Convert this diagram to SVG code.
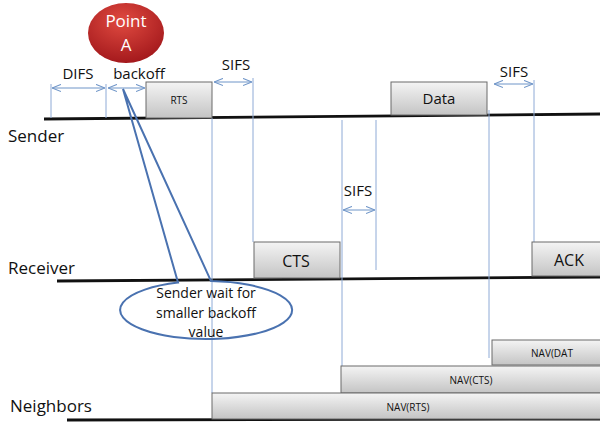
<svg xmlns="http://www.w3.org/2000/svg" width="600" height="422" viewBox="0 0 600 422">
<defs>
<linearGradient id="gbox" x1="0" y1="0" x2="0" y2="1">
<stop offset="0" stop-color="#f4f4f4"/>
<stop offset="1" stop-color="#c4c4c4"/>
</linearGradient>
<radialGradient id="gred" cx="0.45" cy="0.3" r="0.75">
<stop offset="0" stop-color="#e04a40"/>
<stop offset="1" stop-color="#a0161a"/>
</radialGradient>
<marker id="ah" viewBox="0 0 10 10" refX="10" refY="5" markerWidth="9" markerHeight="9" orient="auto-start-reverse" markerUnits="userSpaceOnUse">
<path d="M0,1 L10,5 L0,9" fill="none" stroke="#6f95c8" stroke-width="1.2"/>
</marker>
</defs>
<style>
.box{fill:url(#gbox);stroke:#6a6a6a;stroke-width:1}
.lbl{font-family:"Open Sans","Liberation Sans",sans-serif;fill:#111}
.tl{stroke:#111;stroke-width:2.8;fill:none}
.vl{stroke:#8eaad6;stroke-width:1;fill:none}
.arr{stroke:#6f95c8;stroke-width:1;fill:none;marker-start:url(#ah);marker-end:url(#ah)}
</style>
<rect width="600" height="422" fill="#fff"/>
<g id="timelines">
<path class="tl" d="M44,119 L600,114"/>
<path class="tl" d="M57,281 L600,277"/>
<path class="tl" d="M67,420 L600,419"/>
</g>
<g id="connectors">
<path class="vl" d="M51,84 V118 M106,84 V118 M253,78 V242 M212,118 V393 M342,120 V366 M376,120 V270 M489,110 V358 M534,80 V242"/>
<path class="arr" d="M52,88 H105"/>
<path class="arr" d="M108,88 H145"/>
<path class="arr" d="M214,82 H252"/>
<path class="arr" d="M494,84 H533"/>
<path class="arr" d="M343,210 H375"/>
</g>
<g id="axis-labels" class="lbl" font-size="17">
<text x="8" y="142">Sender</text>
<text x="8" y="274">Receiver</text>
<text x="10" y="412">Neighbors</text>
</g>
<g id="interval-labels" class="lbl" font-size="15" text-anchor="middle">
<text x="78" y="79">DIFS</text>
<text x="139" y="79">backoff</text>
<text x="236" y="70">SIFS</text>
<text x="514" y="77">SIFS</text>
<text x="358" y="196">SIFS</text>
</g>
<g id="rts"><rect class="box" x="146" y="82" width="66" height="36"/><text class="lbl" x="179" y="104" font-size="10" text-anchor="middle">RTS</text></g>
<g id="data"><rect class="box" x="391" y="82" width="96" height="33"/><text class="lbl" x="439" y="104" font-size="15" text-anchor="middle">Data</text></g>
<g id="cts"><rect class="box" x="254" y="242" width="86" height="36"/><text class="lbl" x="296" y="267" font-size="16" text-anchor="middle">CTS</text></g>
<g id="ack"><rect class="box" x="532" y="242" width="72" height="34"/><text class="lbl" x="569" y="266" font-size="16" text-anchor="middle">ACK</text></g>
<g id="nav-data"><rect class="box" x="492" y="340" width="112" height="25"/><text class="lbl" x="552" y="357" font-size="10" text-anchor="middle">NAV(DAT</text></g>
<g id="nav-cts"><rect class="box" x="341" y="366" width="263" height="27"/><text class="lbl" x="471" y="384" font-size="10" text-anchor="middle">NAV(CTS)</text></g>
<g id="nav-rts"><rect class="box" x="212" y="393" width="392" height="26"/><text class="lbl" x="408" y="411" font-size="10" text-anchor="middle">NAV(RTS)</text></g>
<g id="point-a">
<ellipse cx="126" cy="33" rx="38" ry="30" fill="url(#gred)"/>
<text x="126" y="27" font-family="Open Sans, Liberation Sans, sans-serif" font-size="17" fill="#fff" text-anchor="middle">Point</text>
<text x="126" y="51" font-family="Open Sans, Liberation Sans, sans-serif" font-size="17" fill="#fff" text-anchor="middle">A</text>
</g>
<g id="callout">
<path d="M178,282.6 L123,89 L211,281.05 A86,29 0 1 1 178,282.6 Z" fill="#fff" fill-opacity="0" stroke="#4a72b0" stroke-width="2" stroke-linejoin="miter"/>
<text class="lbl" x="206" y="298" font-size="14" text-anchor="middle">Sender wait for</text>
<text class="lbl" x="206" y="318" font-size="14" text-anchor="middle">smaller backoff</text>
<text class="lbl" x="206" y="337" font-size="14" text-anchor="middle">value</text>
</g>
</svg>
